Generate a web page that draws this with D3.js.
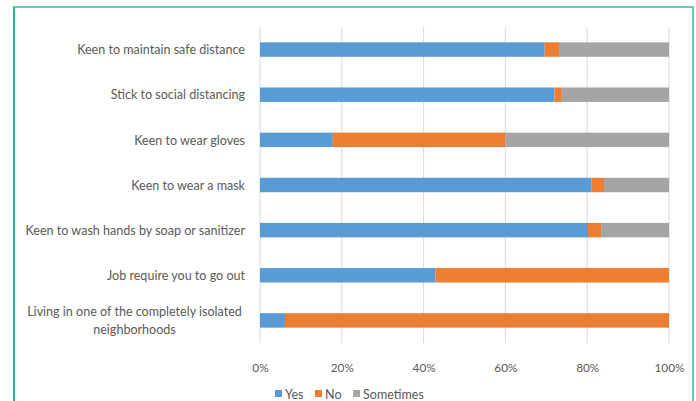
<!DOCTYPE html>
<html>
<head>
<meta charset="utf-8">
<script src="https://cdn.jsdelivr.net/npm/d3@7"></script>
<style>
html,body{margin:0;padding:0;background:#fff;}
svg{display:block;}
text{font-family:Lato,"Open Sans",sans-serif;fill:#595959;}
</style>
</head>
<body>
<svg id="chart" width="696" height="401"></svg>
<script>
const categories = [
  "Keen to maintain safe distance",
  "Stick to social distancing",
  "Keen to wear gloves",
  "Keen to wear a mask",
  "Keen to wash hands by soap or sanitizer",
  "Job require you to go out",
  "Living in one of the completely isolated neighborhoods"
];
const yes = [69.6, 72.0, 17.8, 81.1, 80.2, 42.9, 6.1];
const no = [3.5, 1.8, 42.2, 3.0, 3.2, 57.1, 93.9];
const sometimes = [26.9, 26.2, 40.0, 15.9, 16.6, 0, 0];
const seriesNames = ["Yes", "No", "Sometimes"];
const colors = ["#5b9bd5", "#ed7d31", "#a5a5a5"];
const tickValues = [0, 20, 40, 60, 80, 100];

const svg = d3.select("#chart");

function fitSize(str, target) {
  const t = svg.append("text").attr("font-size", 20).text(str);
  const w = t.node().getComputedTextLength();
  t.remove();
  return 20 * target / w;
}
const labelSize = fitSize("Keen to maintain safe distance", 168);
const tickSize = fitSize("100%", 30);
const legendSize = fitSize("Sometimes", 61);

// border frame
svg.append("path")
  .attr("d", "M14,401 L14,7 L693,7 L693,401")
  .attr("fill", "none").attr("stroke", "#5ccfbe").attr("stroke-width", 2);
svg.append("line").attr("x1", 14).attr("x2", 14).attr("y1", 7).attr("y2", 401)
  .attr("stroke", "#2fb39f").attr("stroke-width", 2);

const x = d3.scaleLinear().domain([0, 100]).range([260, 669]);
const y = d3.scaleBand().domain(categories).range([27, 343]).paddingInner(0.68).paddingOuter(0.34);

// gridlines
svg.append("g").selectAll("line").data(tickValues).join("line")
  .attr("x1", d => x(d)).attr("x2", d => x(d))
  .attr("y1", 27).attr("y2", 343)
  .attr("stroke", "#d9d9d9").attr("stroke-width", 1);

const stackData = categories.map((c, i) => ({cat: c, Yes: yes[i], No: no[i], Sometimes: sometimes[i]}));
const stack = d3.stack().keys(seriesNames)(stackData);

svg.append("g").selectAll("g").data(stack).join("g")
  .attr("fill", (d, i) => colors[i])
  .selectAll("rect").data(d => d).join("rect")
  .attr("x", d => x(d[0]))
  .attr("width", d => Math.max(0, x(d[1]) - x(d[0])))
  .attr("y", d => y(d.data.cat))
  .attr("height", y.bandwidth());

// category labels
const lab = svg.append("g");
categories.forEach((c, i) => {
  const cy = y(c) + y.bandwidth() / 2;
  const off = labelSize * 0.38;
  if (i === categories.length - 1) {
    const t = lab.append("text").attr("text-anchor", "middle").attr("font-size", labelSize);
    t.append("tspan").attr("x", 134.5).attr("y", cy - 9 + off).text("Living in one of the completely isolated");
    t.append("tspan").attr("x", 134.5).attr("y", cy + 8.5 + off).text("neighborhoods");
  } else {
    lab.append("text").attr("x", 245).attr("y", cy + off)
      .attr("text-anchor", "end").attr("font-size", labelSize).text(c);
  }
});

// x axis tick labels
const xAxis = d3.axisBottom(x).tickValues(tickValues).tickFormat(d => d + "%").tickSize(0).tickPadding(0);
const ax = svg.append("g").attr("transform", "translate(0,363.5)").call(xAxis);
ax.select(".domain").remove();
ax.selectAll("text").attr("font-size", tickSize).attr("fill", "#595959")
  .attr("font-family", 'Lato,"Open Sans",sans-serif');

// legend
const legendX = [275, 315, 353];
const lg = svg.append("g");
seriesNames.forEach((s, i) => {
  lg.append("rect").attr("x", legendX[i]).attr("y", 390).attr("width", 7).attr("height", 7).attr("fill", colors[i]);
  lg.append("text").attr("x", legendX[i] + 10).attr("y", 398.5).attr("font-size", legendSize).text(s);
});
</script>
</body>
</html>
